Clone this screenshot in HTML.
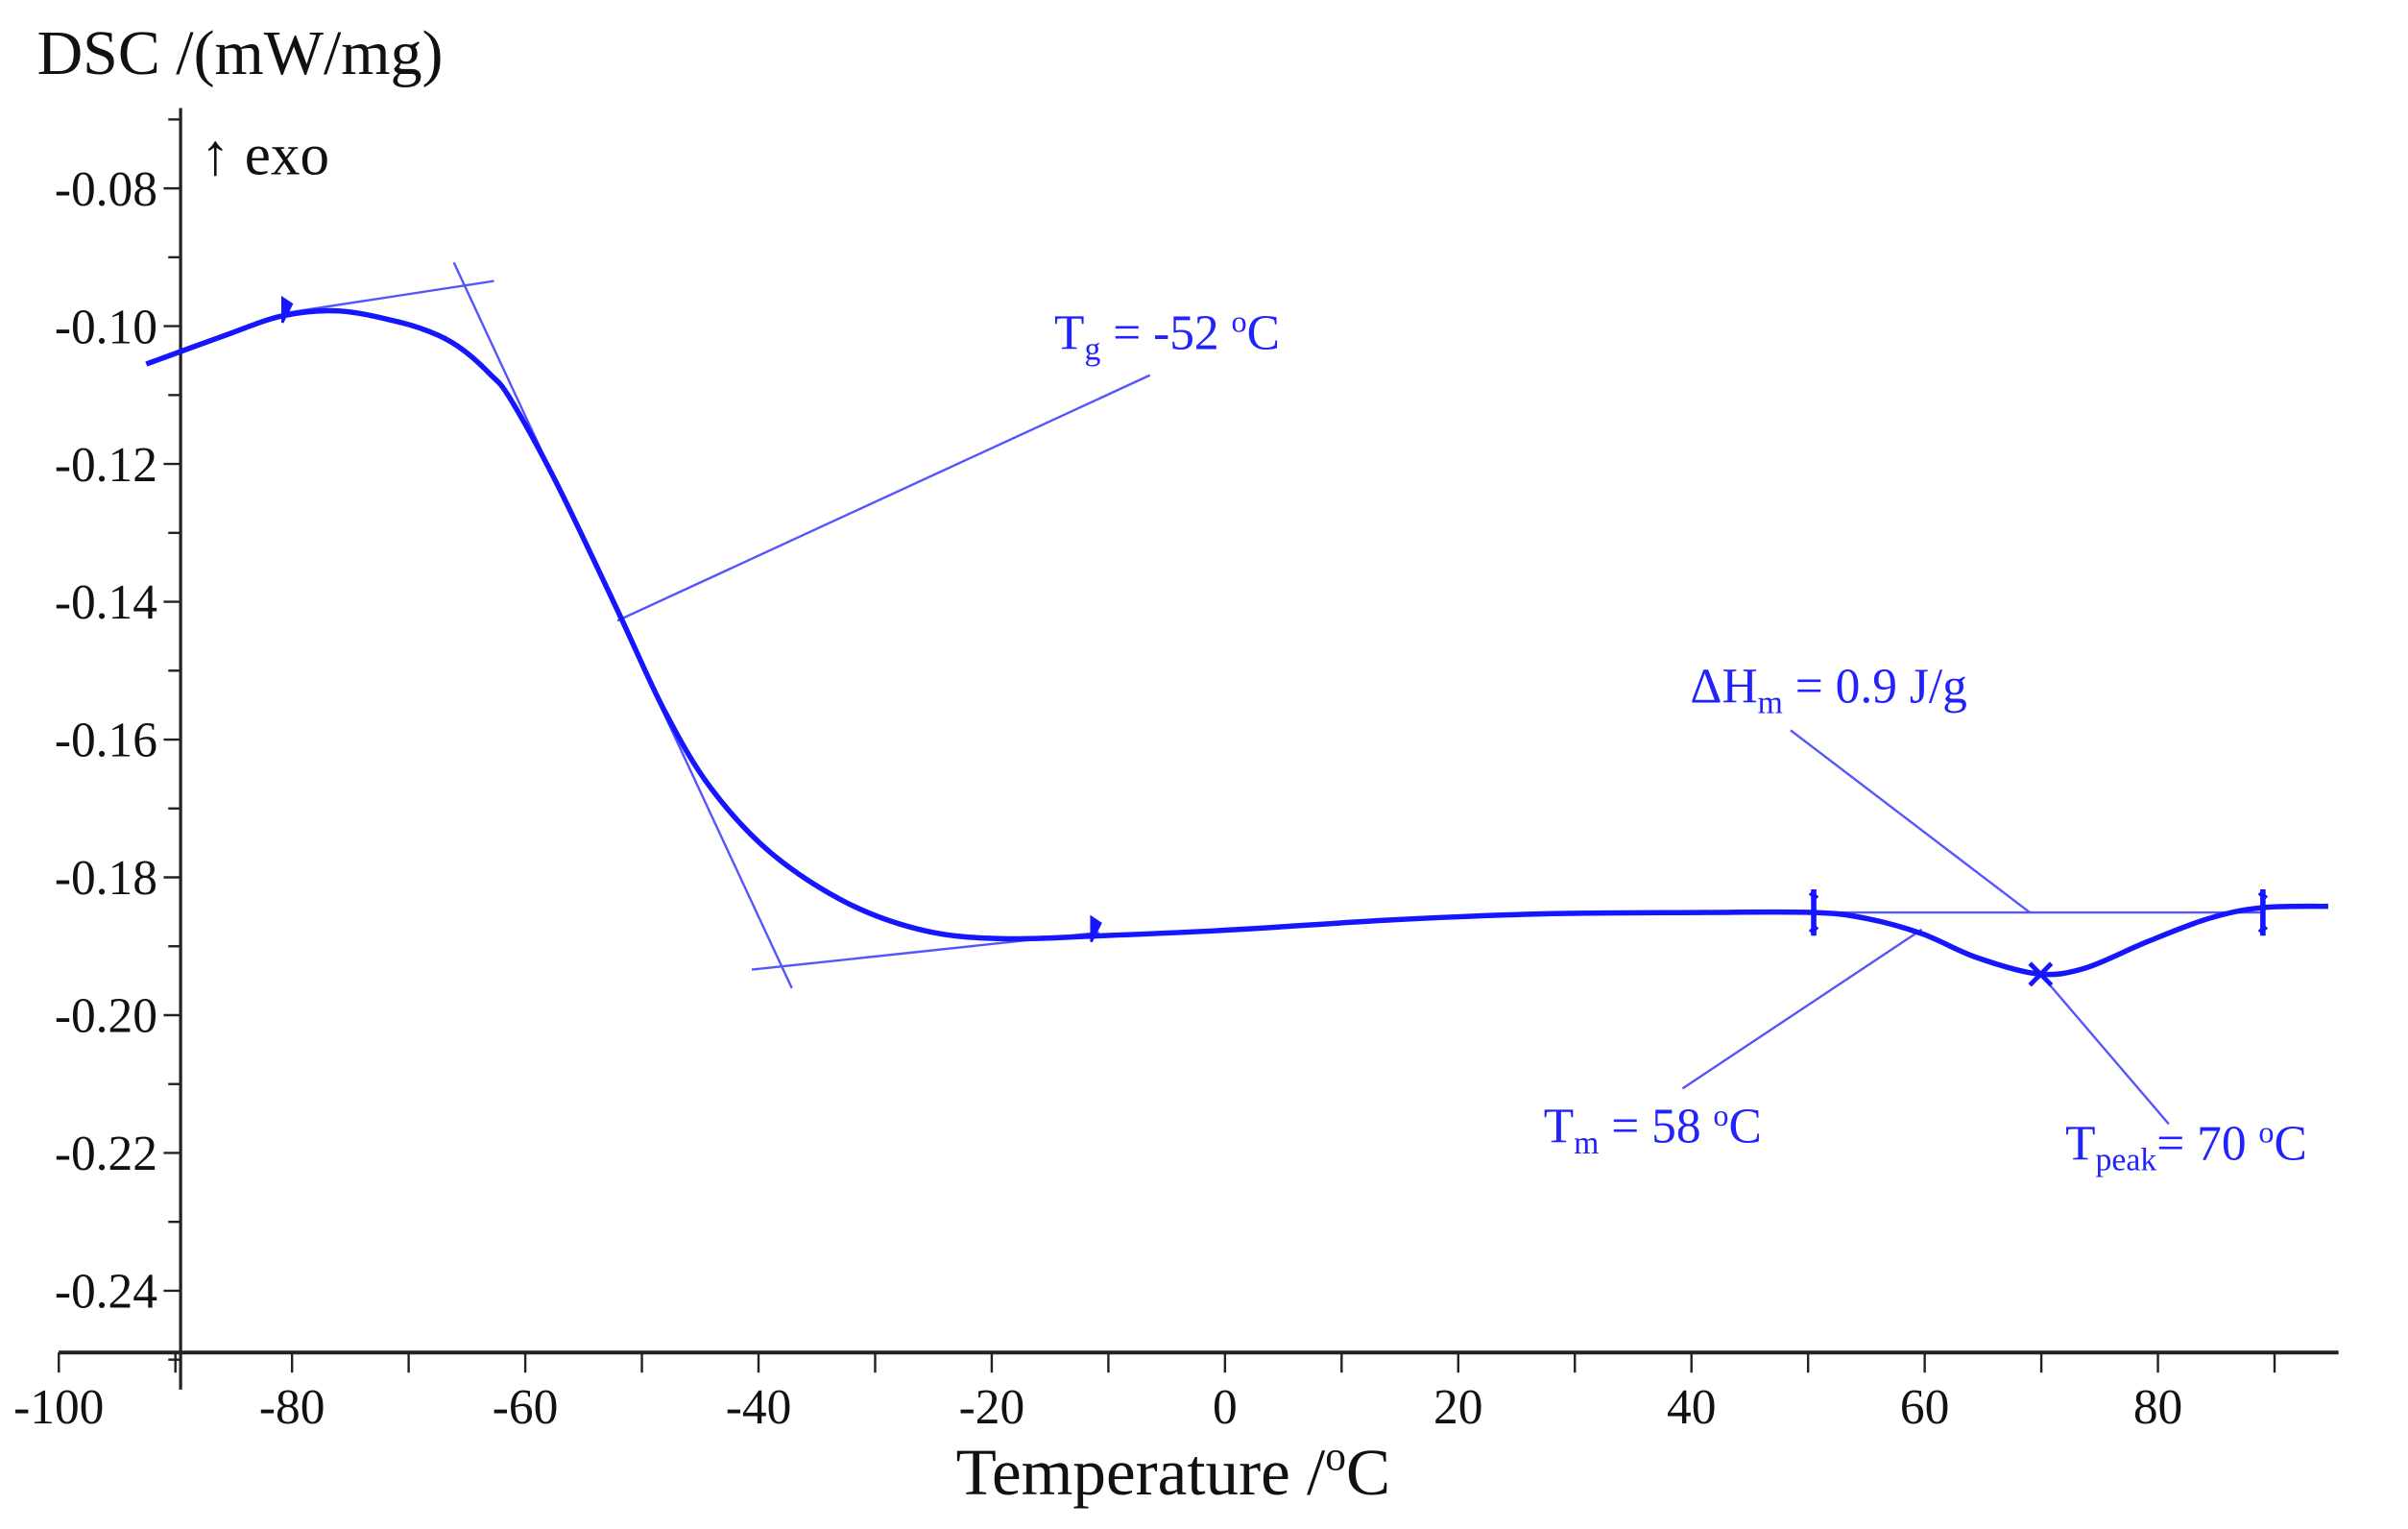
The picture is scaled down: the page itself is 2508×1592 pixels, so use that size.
<!DOCTYPE html>
<html><head><meta charset="utf-8"><style>
html,body{margin:0;padding:0;background:#fff;}
svg{display:block;font-family:"Liberation Serif",serif;}
</style></head><body>
<svg id="chart" width="2508" height="1592" viewBox="0 0 1560 990.3" preserveAspectRatio="none" xmlns="http://www.w3.org/2000/svg">
<g id="axes"></g>
<g id="marks"></g>
<text x="24" y="48" font-size="41" fill="#111">DSC /(mW/mg)</text>
<text x="130" y="113" font-size="38" fill="#111">↑ exo</text>
<text x="760" y="968" font-size="43" fill="#111" text-anchor="middle">Temperature /<tspan font-size="27" dy="-16">o</tspan><tspan dy="16">C</tspan></text>
<text x="683" y="226" font-size="32" fill="#2222ff">T<tspan font-size="21" dy="7">g</tspan><tspan dy="-7"> = -52 </tspan><tspan font-size="20" dy="-11">o</tspan><tspan dy="11">C</tspan></text>
<text x="1095" y="455" font-size="32" fill="#2222ff">ΔH<tspan font-size="21" dy="7">m</tspan><tspan dy="-7"> = 0.9 J/g</tspan></text>
<text x="1000" y="740" font-size="32" fill="#2222ff">T<tspan font-size="21" dy="7">m</tspan><tspan dy="-7"> = 58 </tspan><tspan font-size="20" dy="-11">o</tspan><tspan dy="11">C</tspan></text>
<text x="1338" y="751" font-size="32" fill="#2222ff">T<tspan font-size="21" dy="7">peak</tspan><tspan dy="-7">= 70 </tspan><tspan font-size="20" dy="-11">o</tspan><tspan dy="11">C</tspan></text>
</svg>
<script>
const temps = [-92.5,-86,-80.8,-75.9,-70.6,-67.5,-65.3,-63,-61.3,-57.4,-52.1,-48.1,-44.1,-38.9,-32.3,-25.6,-19,-11,0.8,14,27.3,40.6,50.5,55.1,59.8,64.4,69.7,73.7,79,84.3,88.9,94.6];
const dsc = [-0.1055,-0.1015,-0.0985,-0.0978,-0.0995,-0.1013,-0.1035,-0.107,-0.1105,-0.1225,-0.1412,-0.1557,-0.167,-0.1765,-0.1838,-0.1878,-0.1889,-0.1885,-0.1876,-0.1862,-0.1853,-0.1851,-0.1851,-0.186,-0.1882,-0.1916,-0.194,-0.1932,-0.1894,-0.186,-0.1844,-0.1842];
const xTicks = [-100,-80,-60,-40,-20,0,20,40,60,80];
const yTicks = [-0.08,-0.10,-0.12,-0.14,-0.16,-0.18,-0.20,-0.22,-0.24];
const yTickLabels = ["-0.08","-0.10","-0.12","-0.14","-0.16","-0.18","-0.20","-0.22","-0.24"];

const NS="http://www.w3.org/2000/svg";
const X = t => 793.6 + t/20*151.1;
const Y = v => 122 + (-0.08 - v)/0.02*89.25;
function mk(parent, tag, attrs){const e=document.createElementNS(NS,tag);for(const k in attrs)e.setAttribute(k,attrs[k]);parent.appendChild(e);return e;}
const axes=document.getElementById('axes'), marks=document.getElementById('marks');
const axCol="#222";
let e;
e=mk(axes,'line',{x1:117,y1:70,x2:117,y2:900,stroke:axCol,'stroke-width':2});


e=mk(axes,'line',{x1:38,y1:876,x2:1515,y2:876,stroke:axCol,'stroke-width':2.5});


for(let k=7;k<=25;k++){
  const v=-k/100;
  const major = k%2===0;
  e=mk(axes,'line',{x1:major?106:109,y1:Y(v),x2:117,y2:Y(v),stroke:axCol,'stroke-width':1.5});
  
  
}
yTicks.forEach((v,i)=>{
  e=mk(axes,'text',{x:102,y:Y(v)+11,'font-size':32,'text-anchor':'end',fill:'#111'});
  e.textContent=yTickLabels[i];
  
  
});
for(let t=-100;t<=90;t+=10){
  e=mk(axes,'line',{x1:X(t),y1:876,x2:X(t),y2:889,stroke:axCol,'stroke-width':1.5});
  
  
}
xTicks.forEach(t=>{
  e=mk(axes,'text',{x:X(t),y:922,'font-size':32,'text-anchor':'middle',fill:'#111'});
  e.textContent=String(t);
  
  
});
const blue="#1515ff", thin="#5555ff";
const lines=[[183,203,320,182],[294,170,513,640],[487,628,712,604],[400,402,745,243],[1175,591,1465,591],[1160,473,1315,591],[1245,602,1090,705],[1322,631,1405,728]];
lines.forEach(l=>{
  e=mk(marks,'line',{x1:l[0],y1:l[1],x2:l[2],y2:l[3],stroke:thin,'stroke-width':1.5});
  
  
});
const pts=temps.map((t,i)=>[X(t),Y(dsc[i])]);
let d=`M${pts[0][0]},${pts[0][1]}`;
for(let i=0;i<pts.length-1;i++){
  const p0=pts[Math.max(i-1,0)],p1=pts[i],p2=pts[i+1],p3=pts[Math.min(i+2,pts.length-1)];
  d+=` C${p1[0]+(p2[0]-p0[0])/6},${p1[1]+(p2[1]-p0[1])/6} ${p2[0]-(p3[0]-p1[0])/6},${p2[1]-(p3[1]-p1[1])/6} ${p2[0]},${p2[1]}`;
}
e=mk(marks,'path',{d:d,fill:'none',stroke:blue,'stroke-width':3.4});


[[183,203],[707,604]].forEach(p=>{
  e=mk(marks,'path',{d:`M${p[0]},${p[1]+6} L${p[0]},${p[1]-10} L${p[0]+6},${p[1]-6} Z`,fill:blue,stroke:blue,'stroke-width':1.5});
  
  
});
[1175,1466].forEach(x=>{
  e=mk(marks,'path',{d:`M${x},${576} L${x},${606} M${x-2},${578} l4,4 M${x-2},${604} l4,-4`,fill:'none',stroke:blue,'stroke-width':3.5});
  
  
});
e=mk(marks,'path',{d:'M1315,624 L1329,638 M1329,624 L1315,638',stroke:blue,'stroke-width':3});


</script>
</body></html>
